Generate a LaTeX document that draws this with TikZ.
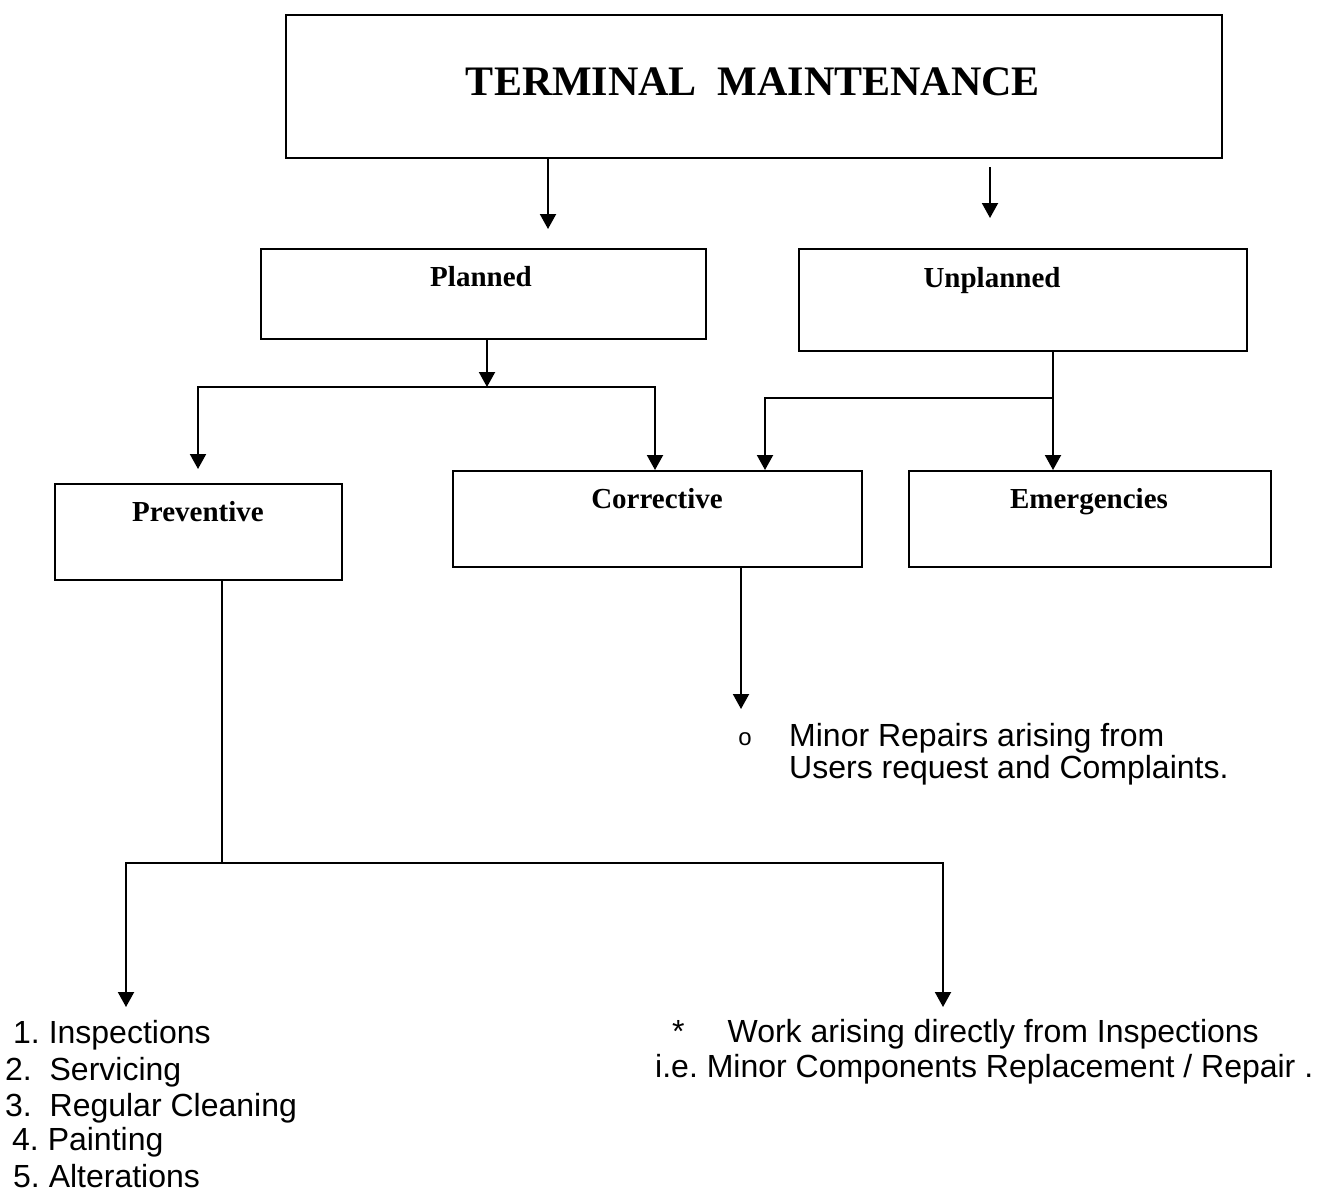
\documentclass[tikz,border=0pt]{standalone}
\usepackage{fontspec}
\setmainfont{Liberation Serif}
\newfontfamily\arialfont{Liberation Sans}
\usepackage{tikz}
\usetikzlibrary{arrows.meta}
\frenchspacing
\tikzstyle{box}=[draw,line width=2.4pt,inner sep=0pt,anchor=north west]
\tikzstyle{boxlabel}=[inner sep=0pt,anchor=base,font=\bfseries\fontsize{29}{34}\selectfont]
\tikzstyle{arrow}=[-{Triangle[width=16pt,length=15pt]},line width=2pt]
\tikzstyle{line}=[line width=2pt]
\tikzstyle{txt}=[inner sep=0pt,anchor=base west,font=\arialfont\fontsize{32}{36}\selectfont]

\begin{document}
\begin{tikzpicture}[x=1pt,y=-1pt]

	\useasboundingbox (0,0) rectangle (1325,1192);

	% boxes
	\node[box,minimum width=936pt,minimum height=143pt] (main) at (285,14) {};
	\node[box,minimum width=445pt,minimum height=90pt] (planned) at (260,248) {};
	\node[box,minimum width=448pt,minimum height=102pt] (unplanned) at (798,248) {};
	\node[box,minimum width=287pt,minimum height=96pt] (preventive) at (54,483) {};
	\node[box,minimum width=409pt,minimum height=96pt] (corrective) at (452,470) {};
	\node[box,minimum width=362pt,minimum height=96pt] (emergencies) at (908,470) {};

	\node[inner sep=0pt,anchor=base,font=\bfseries\fontsize{42}{50}\selectfont] (title) at (753,95) {TERMINAL\ \ MAINTENANCE};
	\node[boxlabel] (plannedlbl) at (481,286) {Planned};
	\node[boxlabel] (unplannedlbl) at (992,287) {Unplanned};
	\node[boxlabel] (preventivelbl) at (198,521) {Preventive};
	\node[boxlabel] (correctivelbl) at (657,508) {Corrective};
	\node[boxlabel] (emergencieslbl) at (1089,508) {Emergencies};

	% arrow ends
	\coordinate (plantip) at (548,229);
	\coordinate (unplstart) at (990,167);
	\coordinate (unpltip) at (990,218);
	\coordinate (pbar) at (487,387);
	\coordinate (prevtip) at (198,469);
	\coordinate (pcorrtip) at (655,470);
	\coordinate (ubar) at (1053,398);
	\coordinate (ucorrtip) at (765,470);
	\coordinate (repairtip) at (741,709);
	\coordinate (prevbar) at (222,863);
	\coordinate (insptip) at (126,1007);
	\coordinate (worktip) at (943,1007);

	\draw[arrow] (main.south -| plantip) -- (plantip);
	\draw[arrow] (unplstart) -- (unpltip);

	\draw[arrow] (planned.south -| pbar) -- (pbar);
	\draw[arrow] (pbar) -| (prevtip);
	\draw[arrow] (pbar) -| (pcorrtip);

	\draw[line] (unplanned.south -| ubar) -- (ubar);
	\draw[arrow] (ubar) -- (emergencies.north -| ubar);
	\draw[arrow] (ubar) -| (ucorrtip);

	\draw[arrow] (corrective.south -| repairtip) -- (repairtip);

	\draw[line] (preventive.south -| prevbar) -- (prevbar);
	\draw[arrow] (prevbar) -| (insptip);
	\draw[arrow] (prevbar) -| (worktip);

	% texts
	\node[inner sep=0pt,font=\arialfont\fontsize{24}{28}\selectfont] (bullet) at (745,739) {o};
	\node[txt] (minor1) at (789,746) {Minor Repairs arising from};
	\node[txt] (minor2) at (789,778) {Users request and Complaints.};

	\foreach \x/\y/\t [count=\i] in {13/1043/{1. Inspections},5/1080/{2.\ \ Servicing},5/1116/{3.\ \ Regular Cleaning},12/1150/{4. Painting},13/1187/{5. Alterations}}
		\node[txt] (item\i) at (\x,\y) {\t};

	\node[txt] (work1) at (672,1042) {*\hspace{43pt}Work arising directly from Inspections};
	\node[txt] (work2) at (655,1077) {i.e. Minor Components Replacement / Repair .};

\end{tikzpicture}
\end{document}
